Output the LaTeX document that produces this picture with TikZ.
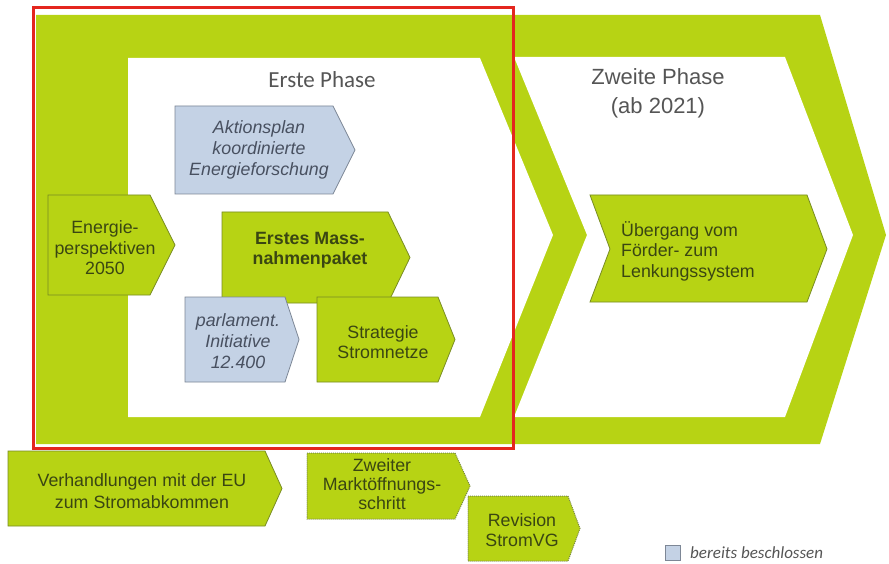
\documentclass[tikz,border=0pt]{standalone}
\usepackage{fontspec}
\setmainfont{Liberation Sans}
\newfontfamily\calibrifont{Carlito}
\definecolor{limegreen}{RGB}{183,211,20}
\definecolor{limeborder}{RGB}{120,140,35}
\definecolor{bluefill}{RGB}{196,210,229}
\definecolor{blueborder}{RGB}{125,135,150}
\definecolor{greentext}{RGB}{58,70,18}
\definecolor{bluetext}{RGB}{72,80,96}
\definecolor{graytext}{RGB}{85,85,85}
\definecolor{dotborder}{RGB}{120,135,70}
\definecolor{redframe}{RGB}{228,38,30}
\newcommand\homeplate[6]{\path[#1] (#2,#3) -- (#4,#3) -- (#5,{(#3+#6)/2}) -- (#4,#6) -- (#2,#6) -- cycle;}
\tikzset{
  gbox/.style={fill=limegreen, draw=limeborder, line width=0.8pt},
  bbox/.style={fill=bluefill, draw=blueborder, line width=0.8pt},
  dbox/.style={fill=limegreen, draw=dotborder, line width=1pt, densely dotted},
  gtxt/.style={font=\fontsize{17.8}{20.5}\selectfont, text=greentext, align=center, inner sep=0pt},
  btxt/.style={font=\fontsize{17.8}{21}\selectfont\itshape, text=bluetext, align=center, inner sep=0pt},
  phasetxt/.style={text=graytext, inner sep=0pt},
}
\begin{document}
\begin{tikzpicture}[x=1pt,y=-1pt]
\useasboundingbox (0,0) rectangle (889,564);
% big phase chevrons
\fill[limegreen] (36,15) -- (820,15) -- (886,235) -- (820,444) -- (36,444) -- cycle;
\fill[white] (128,58) -- (480,58) -- (553,235) -- (480,417) -- (128,417) -- cycle;
\fill[white] (514,57) -- (785,57) -- (853,235) -- (785,417) -- (514,417) -- (587,235) -- cycle;
% phase titles
\node[phasetxt, font=\calibrifont\fontsize{23}{27}\selectfont] (erste) at (322,80) {Erste Phase};
\node[phasetxt, font=\fontsize{22}{29}\selectfont, align=center] (zweite) at (658,93) {Zweite Phase\\(ab 2021)};
% boxes in first phase
\homeplate{bbox}{175}{106}{333}{355}{194}
\node[btxt] (akt) at (259,150) {Aktionsplan\\koordinierte\\Energieforschung};
\homeplate{gbox}{48}{195}{150}{175}{295}
\node[gtxt] (ep) at (105,248) {Energie-\\perspektiven\\2050};
\homeplate{gbox}{222}{212}{388}{410}{303}
\node[gtxt, font=\fontsize{17.8}{20.5}\selectfont\bfseries] (emp) at (310,250) {Erstes Mass-\\nahmenpaket};
\homeplate{bbox}{185}{297}{285}{299}{382}
\node[btxt] (pi) at (238,341) {parlament.\\Initiative\\12.400};
\homeplate{gbox}{317}{297}{438}{455}{382}
\node[gtxt] (ss) at (383,342) {Strategie\\Stromnetze};
% box in second phase
\path[gbox] (590,195) -- (807,195) -- (827,249) -- (807,302) -- (590,302) -- (610,249) -- cycle;
\node[gtxt, align=left, anchor=west] (ueb) at (621,251) {Übergang vom\\Förder- zum\\Lenkungssystem};
% red frame
\draw[redframe, line width=3pt] (33,8) rectangle (513,448);
% bottom row
\homeplate{gbox}{8}{451}{265}{282}{526}
\node[gtxt, font=\fontsize{17.8}{22}\selectfont] (verh) at (142,491) {Verhandlungen mit der EU\\zum Stromabkommen};
\homeplate{dbox}{307}{453}{455}{470}{519}
\node[gtxt, font=\fontsize{17.8}{19}\selectfont] (zms) at (382,484) {Zweiter\\Marktöffnungs-\\schritt};
\homeplate{dbox}{468}{496}{568}{580}{561}
\node[gtxt] (rev) at (522,530) {Revision\\StromVG};
% legend
\path[bbox] (665,545) rectangle (680,560);
\node[anchor=base west, inner sep=0pt, text=graytext, font=\calibrifont\itshape\fontsize{17}{20}\selectfont] (leg) at (690,558) {bereits beschlossen};
\end{tikzpicture}
\end{document}
